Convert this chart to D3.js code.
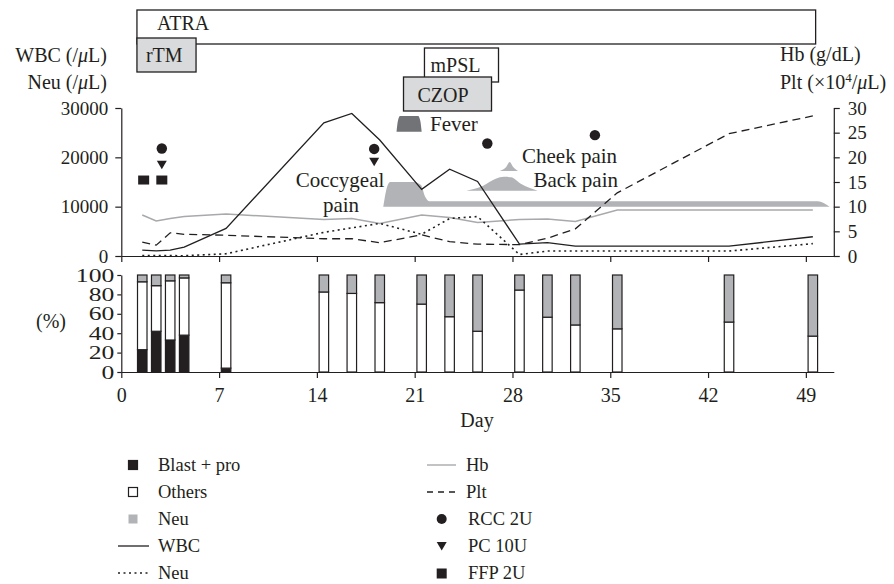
<!DOCTYPE html>
<html>
<head>
<meta charset="utf-8">
<script src="https://cdn.jsdelivr.net/npm/d3@7"></script>
<style>
  body { margin: 0; background: #fff; }
  svg { font-family: "Liberation Serif", "DejaVu Serif", serif; font-size: 19px; fill: #231f20; }
  .axis text { font-family: "Liberation Serif", serif; font-size: 19px; fill: #231f20; }
  .axis path, .axis line { stroke: #231f20; stroke-width: 1.2; }
  .note { font-size: 21px; }
  .legend text { font-size: 18.5px; }
</style>
</head>
<body>
<script>
// sampling days (bars and lines share them)
var days = [1.5, 2.5, 3.5, 4.5, 7.5, 14.5, 16.5, 18.5, 21.5, 23.5, 25.5, 28.5, 30.5, 32.5, 35.5, 43.5, 49.5];
var wbc  = [1200, 1050, 1200, 1800, 5600, 27000, 28900, 23500, 13500, 17600, 15100, 2400, 2700, 2000, 2000, 2000, 3900];
var neu  = [80, 110, 70, 60, 450, 4800, 5700, 6600, 4400, 7600, 8000, 300, 1000, 1000, 1000, 1000, 2500];
var hb   = [8.3, 7.1, 7.6, 8.0, 8.5, 7.4, 7.6, 6.6, 8.3, 7.8, 6.8, 7.4, 7.5, 7.0, 9.3, 9.3, 9.3];
var plt  = [2.8, 2.2, 4.7, 4.4, 4.2, 3.5, 3.5, 2.7, 4.3, 2.9, 2.4, 2.3, 3.6, 5.5, 12.8, 24.8, 28.4];

// differential (%)
var blastPct = [23, 42, 33, 38, 4, 0, 0, 0, 0, 0, 0, 0, 0, 0, 0, 0, 0];
var neuPct   = [7, 11, 6, 3, 8, 17.5, 19, 28.5, 30, 43, 58, 15.5, 43.5, 51.5, 55.5, 48.5, 63];

// transfusions: [day, level on WBC axis]
var rcc = [[2.9, 21800], [18.1, 21700], [26.2, 22800], [33.9, 24500]];
var pc  = [[2.9, 18500], [18.1, 19100]];
var ffp = [[1.6, 15400], [2.9, 15400]];

// treatments: name, start day, end day
var treatments = [
  {name: "ATRA", start: 1.12, end: 49.7},
  {name: "rTM", start: 1.12, end: 5.35},
  {name: "mPSL", start: 21.7, end: 27.0},
  {name: "CZOP", start: 20.2, end: 26.5}
];

// symptoms: [day, intensity]
var fever = [[19.7, 0], [19.8, 2.2], [19.95, 3.2], [21.25, 3.2], [21.4, 2.2], [21.5, 0]];
var coccygealPain = [[18.75, 0], [18.95, 3.2], [19.25, 5], [20.9, 5], [21.45, 4.4], [21.75, 2], [22.05, 1.1],
                     [49.85, 1.1], [50.7, 0]];
var backPain = [[24.7, 0], [25.9, 1.0], [26.8, 2.4], [27.4, 2.8], [27.9, 2.7], [28.6, 1.4], [29.8, 0]];
var cheekPain = [[27.1, 0], [27.55, 0.8], [27.8, 1.8], [28.05, 0.8], [28.4, 0]];

var width = 894, height = 584;
var svg = d3.select("body").append("svg").attr("width", width).attr("height", height);

var x = d3.scaleLinear().domain([0, 51]).range([121.3, 833.8]);
var yL = d3.scaleLinear().domain([0, 30000]).range([256, 108]);
var yR = d3.scaleLinear().domain([0, 30]).range([256, 108]);
var yP = d3.scaleLinear().domain([0, 100]).range([372, 275]);
var dayTicks = d3.range(0, 50, 7);

var black = "#231f20", grey = "#b1b3b6", lightGrey = "#d9dadb";

// treatment boxes: top, height, fill, text dx, text dy
var boxRow = {ATRA: [10, 34, "#fff", 20, 20], rTM: [38, 34, lightGrey, 9, 24], mPSL: [48, 34, "#fff", 6, 24], CZOP: [77, 34, lightGrey, 14, 25]};
treatments.forEach(function(t) {
  var r = boxRow[t.name];
  svg.append("rect")
    .attr("x", x(t.start)).attr("y", r[0])
    .attr("width", x(t.end) - x(t.start)).attr("height", r[1])
    .attr("fill", r[2]).attr("stroke", black).attr("stroke-width", 1.3);
  svg.append("text").attr("x", x(t.start) + r[3]).attr("y", r[0] + r[4])
    .attr("font-size", 20).text(t.name);
});

// symptom shapes (base level on WBC axis, 1 unit = 1000/uL)
function symptom(data, base, fill) {
  var area = d3.area()
    .x(function(d) { return x(d[0]); })
    .y0(yL(base))
    .y1(function(d) { return yL(base + d[1] * 1000); })
    .curve(d3.curveMonotoneX);
  svg.append("path").datum(data).attr("d", area).attr("fill", fill);
}
symptom(fever, 25200, "#727376");
symptom(coccygealPain, 10000, grey);
symptom(backPain, 13250, grey);
symptom(cheekPain, 17250, grey);

svg.append("text").attr("class", "note").attr("x", 430).attr("y", 131).text("Fever");
svg.append("text").attr("class", "note").attr("x", 340).attr("y", 187).attr("text-anchor", "middle").text("Coccygeal");
svg.append("text").attr("class", "note").attr("x", 341).attr("y", 212).attr("text-anchor", "middle").text("pain");
svg.append("text").attr("class", "note").attr("x", 522).attr("y", 163).text("Cheek pain");
svg.append("text").attr("class", "note").attr("x", 618).attr("y", 187).attr("text-anchor", "end").text("Back pain");

// upper axes
svg.append("g").attr("class", "axis").attr("transform", "translate(0,256)")
  .call(d3.axisBottom(x).tickValues(dayTicks).tickSize(6).tickSizeOuter(0).tickFormat(""));
svg.append("g").attr("class", "axis").attr("transform", "translate(121.3,0)")
  .call(d3.axisLeft(yL).tickValues([0, 10000, 20000, 30000]).tickSize(6).tickSizeOuter(0).tickPadding(7).tickFormat(d3.format("d")));
svg.append("g").attr("class", "axis").attr("transform", "translate(833.8,0)")
  .call(d3.axisRight(yR).tickValues(d3.range(0, 31, 5)).tickSize(6).tickSizeOuter(0).tickPadding(8));

// axis titles
var tl = svg.append("text").attr("x", 107).attr("y", 62).attr("text-anchor", "end").attr("font-size", 20);
tl.append("tspan").text("WBC (/");
tl.append("tspan").attr("font-style", "italic").text("μ");
tl.append("tspan").text("L)");
var tl2 = svg.append("text").attr("x", 107).attr("y", 89).attr("text-anchor", "end").attr("font-size", 20);
tl2.append("tspan").text("Neu (/");
tl2.append("tspan").attr("font-style", "italic").text("μ");
tl2.append("tspan").text("L)");
svg.append("text").attr("x", 780).attr("y", 61).attr("font-size", 20).text("Hb (g/dL)");
var tr = svg.append("text").attr("x", 780).attr("y", 89).attr("font-size", 20);
tr.append("tspan").text("Plt (×10");
tr.append("tspan").attr("font-size", 13).attr("dy", -7).text("4");
tr.append("tspan").attr("dy", 7).text("/");
tr.append("tspan").attr("font-style", "italic").text("μ");
tr.append("tspan").text("L)");

// lines
function line(values, scale) {
  return d3.line().x(function(d, i) { return x(days[i]); }).y(function(d) { return scale(d); })(values);
}
svg.append("path").attr("d", line(hb, yR)).attr("fill", "none").attr("stroke", "#a7a9ac").attr("stroke-width", 1.5);
svg.append("path").attr("d", line(plt, yR)).attr("fill", "none").attr("stroke", black).attr("stroke-width", 1.3).attr("stroke-dasharray", "8,5");
svg.append("path").attr("d", line(neu, yL)).attr("fill", "none").attr("stroke", black).attr("stroke-width", 1.6).attr("stroke-dasharray", "2,3.5");
svg.append("path").attr("d", line(wbc, yL)).attr("fill", "none").attr("stroke", black).attr("stroke-width", 1.3);

// transfusion markers
function triangle(cx, cy) {
  return "M" + (cx - 5) + "," + (cy - 4) + "L" + (cx + 5) + "," + (cy - 4) + "L" + cx + "," + (cy + 4.5) + "Z";
}
svg.selectAll(".rcc").data(rcc).enter().append("circle")
  .attr("cx", function(d) { return x(d[0]); }).attr("cy", function(d) { return yL(d[1]); })
  .attr("r", 5.2).attr("fill", black);
svg.selectAll(".pc").data(pc).enter().append("path")
  .attr("d", function(d) { return triangle(x(d[0]), yL(d[1])); })
  .attr("fill", black);
svg.selectAll(".ffp").data(ffp).enter().append("rect")
  .attr("x", function(d) { return x(d[0]) - 5.5; }).attr("y", function(d) { return yL(d[1]) - 4.5; })
  .attr("width", 11).attr("height", 9).attr("fill", black);

// lower panel: stacked bars
var barData = days.map(function(d, i) {
  return {day: d, blast: blastPct[i], others: 100 - blastPct[i] - neuPct[i], neu: neuPct[i]};
});
var stack = d3.stack().keys(["blast", "others", "neu"])(barData);
var fills = {blast: black, others: "#fff", neu: grey};
var halfW = 0.34;
stack.forEach(function(layer) {
  svg.append("g").selectAll("rect").data(layer).enter().append("rect")
    .attr("x", function(d) { return x(d.data.day - halfW); })
    .attr("width", x(2 * halfW) - x(0))
    .attr("y", function(d) { return yP(d[1]); })
    .attr("height", function(d) { return yP(d[0]) - yP(d[1]); })
    .attr("fill", fills[layer.key])
    .attr("stroke", black).attr("stroke-width", 1.2);
});

svg.append("g").attr("class", "axis").attr("transform", "translate(0,372)")
  .call(d3.axisBottom(x).tickValues(dayTicks).tickSize(6).tickSizeOuter(0).tickPadding(10))
  .selectAll("text").attr("font-size", 20).style("font-size", "20px");
var pAxis = svg.append("g").attr("class", "axis").attr("transform", "translate(121.3,0)")
  .call(d3.axisLeft(yP).tickValues(d3.range(0, 101, 20)).tickSize(4).tickSizeOuter(0).tickPadding(3));
// the % labels are set wider in the original
pAxis.selectAll("text").attr("x", -7 / 1.35).attr("transform", "scale(1.35,1)");
svg.append("text").attr("x", 51).attr("y", 328).attr("text-anchor", "middle").attr("font-size", 20).text("(%)");
svg.append("text").attr("x", 477).attr("y", 427).attr("text-anchor", "middle").attr("font-size", 20).text("Day");

// legend
var legend = svg.append("g").attr("class", "legend");
var rowY = [465, 492, 519, 546, 573];
var leftLegend = [
  {label: "Blast + pro", type: "box", fill: black},
  {label: "Others", type: "box", fill: "#fff"},
  {label: "Neu", type: "box", fill: grey},
  {label: "WBC", type: "line", dash: null},
  {label: "Neu", type: "line", dash: "2,3.5"}
];
leftLegend.forEach(function(l, i) {
  var cy = rowY[i];
  if (l.type === "box") {
    legend.append("rect").attr("x", 128.5).attr("y", cy - 4.5).attr("width", 9).attr("height", 9)
      .attr("fill", l.fill).attr("stroke", l.fill === grey ? "none" : black).attr("stroke-width", 1.2);
  } else {
    legend.append("line").attr("x1", 118).attr("x2", 149).attr("y1", cy).attr("y2", cy)
      .attr("stroke", black).attr("stroke-width", l.dash ? 1.6 : 1.3).attr("stroke-dasharray", l.dash);
  }
  legend.append("text").attr("x", 158).attr("y", cy + 6).text(l.label);
});
var rightLegend = [
  {label: "Hb", type: "line", color: "#a7a9ac", dash: null},
  {label: "Plt", type: "line", color: black, dash: "6,5"},
  {label: "RCC 2U", type: "circle"},
  {label: "PC 10U", type: "tri"},
  {label: "FFP 2U", type: "square"}
];
rightLegend.forEach(function(l, i) {
  var cy = rowY[i], cx = 441.7;
  if (l.type === "line") {
    legend.append("line").attr("x1", 427).attr("x2", 456).attr("y1", cy).attr("y2", cy)
      .attr("stroke", l.color).attr("stroke-width", 1.4).attr("stroke-dasharray", l.dash);
    legend.append("text").attr("x", 466).attr("y", cy + 6).text(l.label);
    return;
  }
  if (l.type === "circle") legend.append("circle").attr("cx", cx).attr("cy", cy).attr("r", 5).attr("fill", black);
  if (l.type === "tri") legend.append("path").attr("d", triangle(cx, cy)).attr("fill", black);
  if (l.type === "square") legend.append("rect").attr("x", cx - 5).attr("y", cy - 4.5).attr("width", 10).attr("height", 10).attr("fill", black);
  legend.append("text").attr("x", 468).attr("y", cy + 6).text(l.label);
});
</script>
</body>
</html>
